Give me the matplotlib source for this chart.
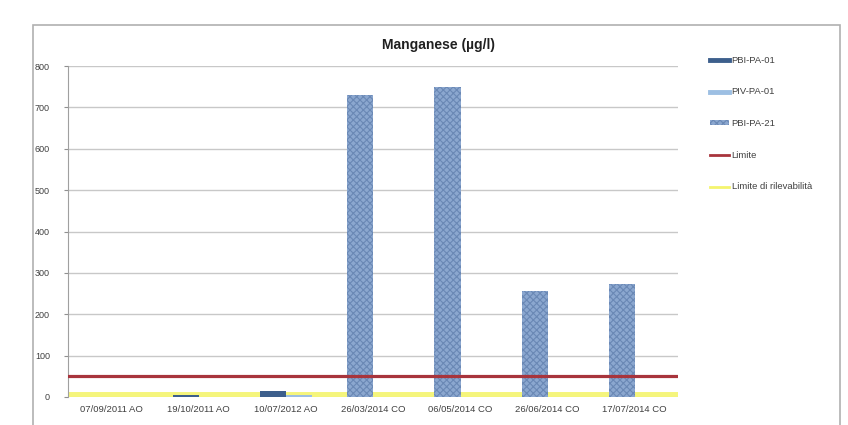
import matplotlib
matplotlib.use("Agg")
import matplotlib.pyplot as plt
import numpy as np
from matplotlib.patches import Rectangle, Patch
from matplotlib.lines import Line2D

plt.rcParams['font.family'] = ['Liberation Sans', 'DejaVu Sans']
plt.rcParams['hatch.linewidth'] = 0.8

categories = ["07/09/2011 AO", "19/10/2011 AO", "10/07/2012 AO", "26/03/2014 CO",
              "06/05/2014 CO", "26/06/2014 CO", "17/07/2014 CO"]
pbi_pa_01 = [0, 5, 15, 0, 0, 0, 0]
piv_pa_01 = [0, 0, 4, 0, 0, 0, 0]
pbi_pa_21 = [0, 0, 0, 730, 750, 256, 272]
limite = 50
limite_rilevabilita = 4
yticks = [0, 100, 200, 300, 400, 500, 600, 700, 800]
title = "Manganese (µg/l)"

fig = plt.figure(figsize=(8.48, 4.25), dpi=100)
fig.patch.set_facecolor('white')

# outer chart frame
fig.add_artist(Rectangle((33/848, -0.02), (840-33)/848, 1-25/425+0.02,
                         transform=fig.transFigure, fill=False,
                         edgecolor='#b0b0b0', linewidth=1.2))

ax = fig.add_axes([68/848, 1-397/425, (678-68)/848, (397-66)/425])
x = np.arange(len(categories))
w = 0.3
ax.bar(x - 0.145, pbi_pa_01, width=w, color='#3d5f8c', zorder=3)
ax.bar(x + 0.155, piv_pa_01, width=w, color='#9dbfe3', zorder=3)
ax.bar(x - 0.145, pbi_pa_21, width=w, facecolor='#8ba7cf', edgecolor='#6a88b5',
       hatch='xxxxx', linewidth=0, zorder=3)
ax.axhline(limite, color='#a8343c', linewidth=2.3, zorder=5)
ax.axhline(limite_rilevabilita, color='#f4f46e', linewidth=5, zorder=2, alpha=0.9)

ax.set_xlim(-0.5, len(categories) - 0.5)
ax.set_ylim(0, 800)
ax.set_yticks(yticks)
ax.set_xticks(x)
ax.set_xticklabels(categories, fontsize=6.8, color='#404040')
ax.tick_params(axis='y', labelsize=6.5, labelcolor='#404040', length=3, color='#909090', pad=10)
ax.tick_params(axis='x', length=0, pad=6)
ax.grid(axis='y', color='#c8c8c8', linewidth=1, zorder=0)
for s in ['top', 'right', 'bottom']:
    ax.spines[s].set_visible(False)
ax.spines['left'].set_color('#a0a0a0')

fig.text(438/848, 1-45/425, title, ha='center', va='center', fontsize=10,
         fontweight='bold', color='#202020')

handles = [
    Line2D([], [], color='#3d5f8c', linewidth=3.5),
    Line2D([], [], color='#9dbfe3', linewidth=3.5),
    Patch(facecolor='#8ba7cf', edgecolor='#6a88b5', hatch='xxxxx', linewidth=0),
    Line2D([], [], color='#a8343c', linewidth=2),
    Line2D([], [], color='#f4f46e', linewidth=2),
]
labels = ["PBI-PA-01", "PIV-PA-01", "PBI-PA-21", "Limite", "Limite di rilevabilità"]
fig.legend(handles, labels, loc='upper left', bbox_to_anchor=(706/848, 1-52/425),
           frameon=False, fontsize=6.8, labelcolor='#404040', handlelength=2.0,
           handleheight=0.35, handletextpad=0.3, labelspacing=2.4, borderaxespad=0)

fig.savefig("out.png", dpi=100)
